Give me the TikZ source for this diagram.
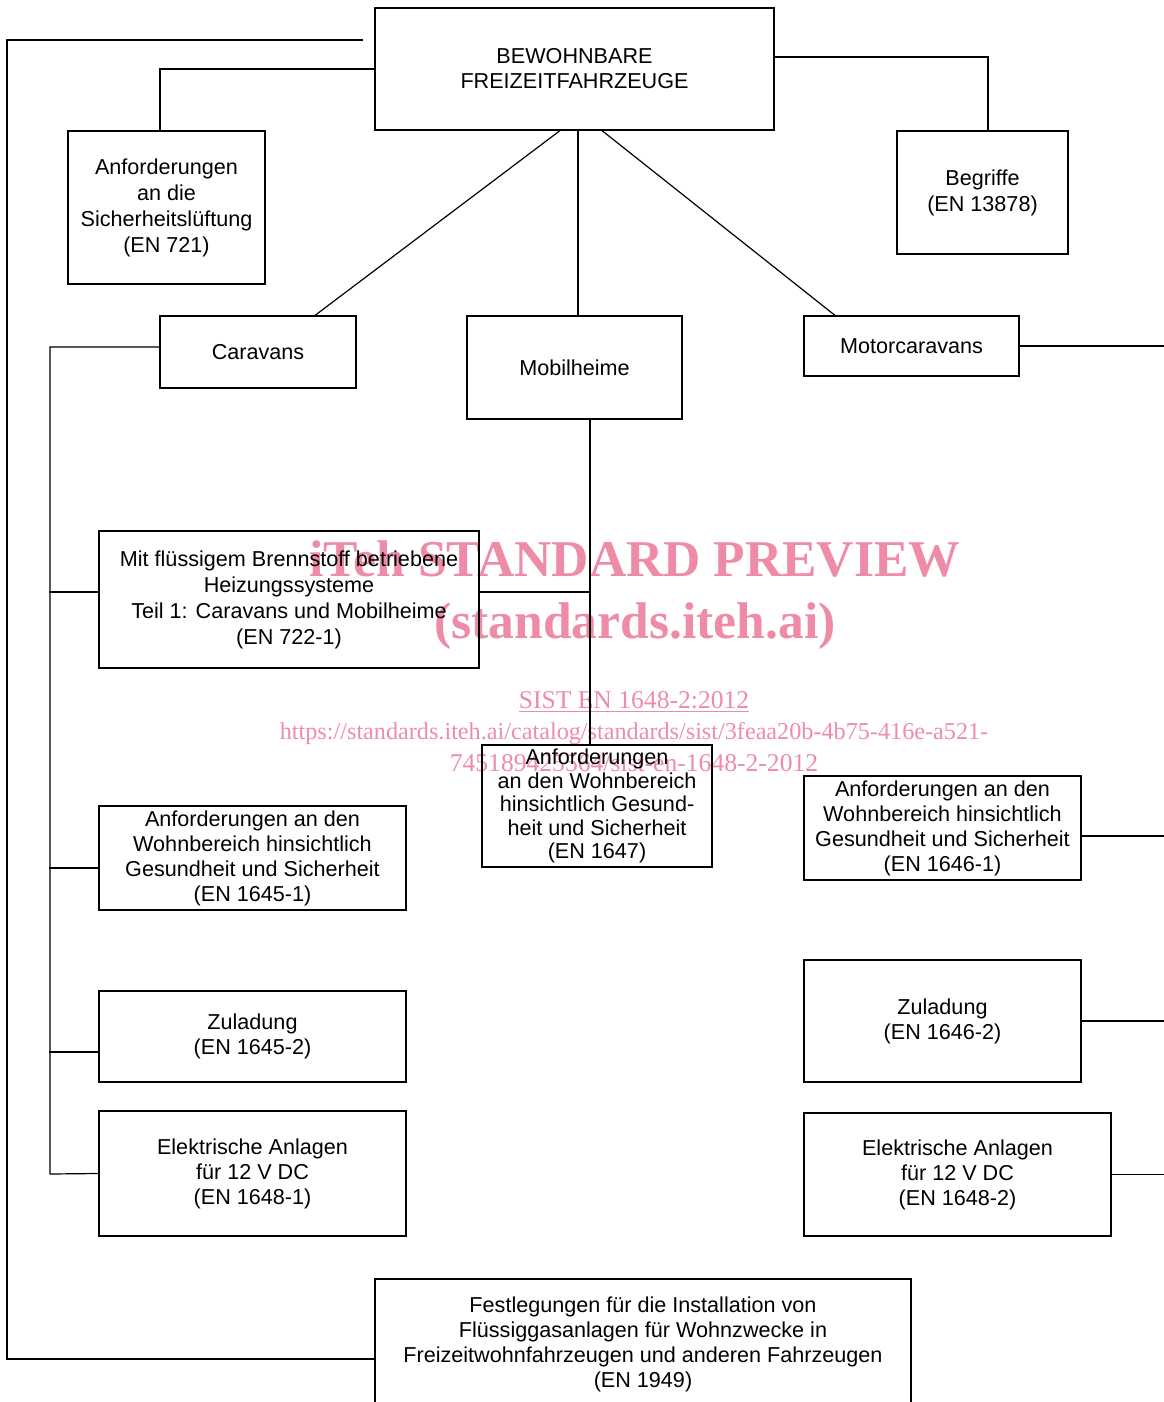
\documentclass[tikz,border=0pt]{standalone}
\usepackage{fontspec}
\setmainfont{Liberation Sans}
\newfontfamily\wmfont{Liberation Serif}
\definecolor{wmpink}{RGB}{238,140,168}
\tikzset{
  box/.style={draw, inner sep=0pt, align=center, font=\fontsize{10.8}{12.5}\selectfont},
  widebox/.style={box, font=\fontsize{10.8}{13}\selectfont},
  wmbig/.style={text=wmpink, inner sep=0pt, anchor=base, font=\wmfont\bfseries\fontsize{25.8}{30}\selectfont},
  wmsmall/.style={text=wmpink, inner sep=0pt, anchor=base, font=\wmfont\fontsize{12.8}{16}\selectfont},
}
\begin{document}
\begin{tikzpicture}[x=0.5pt, y=-0.5pt, line width=0.6pt]
    \useasboundingbox (0,0) rectangle (1163,1402);
    % watermark, behind the chart
    \node[wmbig] (wm1) at (635,576) {iTeh STANDARD PREVIEW};
    \node[wmbig] (wm2) at (635,638) {(standards.iteh.ai)};
    \node[wmsmall] (wm3) at (634,708) {\underline{SIST EN 1648-2:2012}};
    \node[wmsmall, font=\wmfont\fontsize{12.1}{16}\selectfont] (wm4) at (634,739) {https://standards.iteh.ai/catalog/standards/sist/3feaa20b-4b75-416e-a521-};
    \node[wmsmall] (wm5) at (634,771) {745189425564/sist-en-1648-2-2012};

    % boxes
    \node[box, minimum width=199.5pt, minimum height=61pt] (top) at (574.5,69) {BEWOHNBARE\\FREIZEITFAHRZEUGE};
    \node[widebox, minimum width=98.5pt, minimum height=76.5pt] (en721) at (166.5,207.5) {Anforderungen\\an die\\Sicherheitslüftung\\(EN 721)};
    \node[widebox, minimum width=85.5pt, minimum height=61.5pt] (begr) at (982.5,192.5) {Begriffe\\(EN 13878)};
    \node[box, minimum width=98pt, minimum height=36pt] (carav) at (258,352) {Caravans};
    \node[box, minimum width=107.5pt, minimum height=51.5pt] (mobil) at (574.5,367.5) {Mobilheime};
    \node[box, minimum width=107.5pt, minimum height=30pt] (motor) at (911.5,346) {Motorcaravans};
    \node[widebox, minimum width=190pt, minimum height=68.5pt] (en722) at (289,599.5) {Mit flüssigem Brennstoff betriebene\\Heizungssysteme\\Teil 1: Caravans und Mobilheime\\(EN 722-1)};
    \node[box, minimum width=153.5pt, minimum height=52pt] (en1645a) at (252.5,858) {Anforderungen an den\\Wohnbereich hinsichtlich\\Gesundheit und Sicherheit\\(EN 1645-1)};
    \node[box, minimum width=115pt, minimum height=61pt, font=\fontsize{10.8}{11.75}\selectfont] (en1647) at (597,806) {Anforderungen\\an den Wohnbereich\\hinsichtlich Gesund-\\heit und Sicherheit\\(EN 1647)};
    \node[box, minimum width=138.5pt, minimum height=52pt] (en1646a) at (942.5,828) {Anforderungen an den\\Wohnbereich hinsichtlich\\Gesundheit und Sicherheit\\(EN 1646-1)};
    \node[box, minimum width=153.5pt, minimum height=45.5pt] (en1645b) at (252.5,1036.5) {Zuladung\\(EN 1645-2)};
    \node[box, minimum width=138.5pt, minimum height=61pt] (en1646b) at (942.5,1021) {Zuladung\\(EN 1646-2)};
    \node[box, minimum width=153.5pt, minimum height=62.5pt] (en1648a) at (252.5,1173.5) {Elektrische Anlagen\\für 12 V DC\\(EN 1648-1)};
    \node[box, minimum width=153.5pt, minimum height=61.5pt] (en1648b) at (957.5,1174.5) {Elektrische Anlagen\\für 12 V DC\\(EN 1648-2)};
    \node[box, minimum width=268pt, minimum height=65.5pt] (en1949) at (643,1344.5) {Festlegungen für die Installation von\\Flüssiggasanlagen für Wohnzwecke in\\Freizeitwohnfahrzeugen und anderen Fahrzeugen\\(EN 1949)};

    % free ends and bends
    \coordinate (gap) at (363,40);
    \coordinate (lt) at (7,40);
    \coordinate (cbus) at (50,1174);
    \coordinate (mtop) at ([xshift=7.75pt]mobil.south);

    % top level
    \draw (gap) -- (lt) |- ([yshift=-7.25pt]en1949.west);
    \draw (top.west) -| ([xshift=-3.25pt]en721.north);
    \draw ([yshift=6pt]top.east) -| ([xshift=2.75pt]begr.north);
    \draw ([xshift=-7.25pt]top.south) -- ([xshift=28.5pt]carav.north);
    \draw ([xshift=1.75pt]top.south) -- ([xshift=1.75pt]mobil.north);
    \draw ([xshift=13.75pt]top.south) -- ([xshift=-38.25pt]motor.north);

    % caravans
    \draw ([yshift=2.5pt]carav.west) -| (cbus) -- (en1648a.west);
    \draw ([yshift=3.75pt]en722.west) -- ++(-49,0);
    \draw ([yshift=-5pt]en1645a.west) -- ++(-49,0);
    \draw ([yshift=-7.75pt]en1645b.west) -- ++(-49,0);

    % mobilheime
    \draw (mtop) -- (mtop |- en1647.north);
    \draw ([yshift=3.75pt]en722.east) -- ++(111,0);

    % motorcaravans
    \draw (motor.east) -- ++(144,0);
    \draw ([yshift=-4pt]en1646a.east) -- ++(82,0);
    \draw (en1646b.east) -- ++(82,0);
    \draw (en1648b.east) -- ++(52,0);
\end{tikzpicture}
\end{document}
